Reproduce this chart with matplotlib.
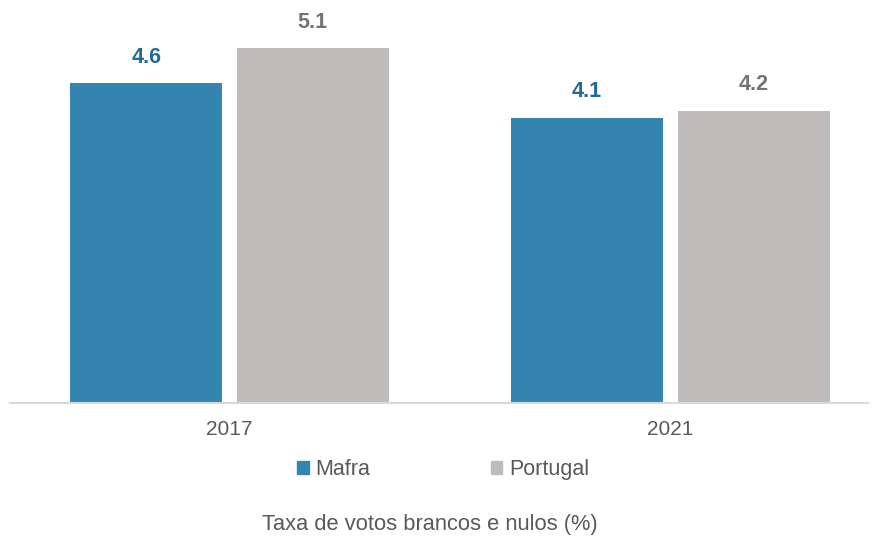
import matplotlib.pyplot as plt
from matplotlib.patches import Patch
import numpy as np

plt.rcParams['font.family'] = ['Liberation Sans', 'DejaVu Sans']

# dados
anos = ['2017', '2021']
mafra = [4.6, 4.1]
portugal = [5.1, 4.2]

cor_mafra = '#3385AF'
cor_portugal = '#BFBBBA'

fig = plt.figure(figsize=(8.77, 5.38), dpi=100)
ax = fig.add_axes([0.0114, 0.251, 0.978, 0.749])

x = np.arange(len(anos))
w = 0.345
off = 0.189

b1 = ax.bar(x - off, mafra, w, color=cor_mafra)
b2 = ax.bar(x + off, portugal, w, color=cor_portugal)

for rect, v in zip(b1, mafra):
    ax.annotate(f'{v:.1f}', (rect.get_x() + rect.get_width() / 2, v),
                xytext=(0, 11), textcoords='offset points', ha='center', va='bottom',
                fontsize=15.5, fontweight='bold', color='#1F6A98')
for rect, v in zip(b2, portugal):
    ax.annotate(f'{v:.1f}', (rect.get_x() + rect.get_width() / 2, v),
                xytext=(0, 11), textcoords='offset points', ha='center', va='bottom',
                fontsize=15.5, fontweight='bold', color='#737373')

ax.set_xlim(-0.498, 1.448)
ax.set_ylim(0, 5.79)
ax.set_xticks(x)
ax.set_xticklabels(anos, fontsize=15, color='#595959')
ax.tick_params(axis='x', length=0, pad=12)
ax.set_yticks([])
for s in ['top', 'right', 'left']:
    ax.spines[s].set_visible(False)
ax.spines['bottom'].set_color('#D9D9D9')
ax.spines['bottom'].set_linewidth(1.5)

handles = [Patch(color=cor_mafra, label='Mafra'), Patch(color=cor_portugal, label='Portugal')]
leg = fig.legend(handles=handles, loc='center', bbox_to_anchor=(0.505, 0.128), ncol=2,
                 frameon=False, fontsize=15.5, handlelength=0.55, handleheight=0.55,
                 handletextpad=0.3, columnspacing=5.6)
for t in leg.get_texts():
    t.set_color('#595959')

fig.text(0.49, 0.026, 'Taxa de votos brancos e nulos (%)', ha='center', va='center',
         fontsize=15.75, color='#595959')

fig.savefig('out.png', dpi=100)
